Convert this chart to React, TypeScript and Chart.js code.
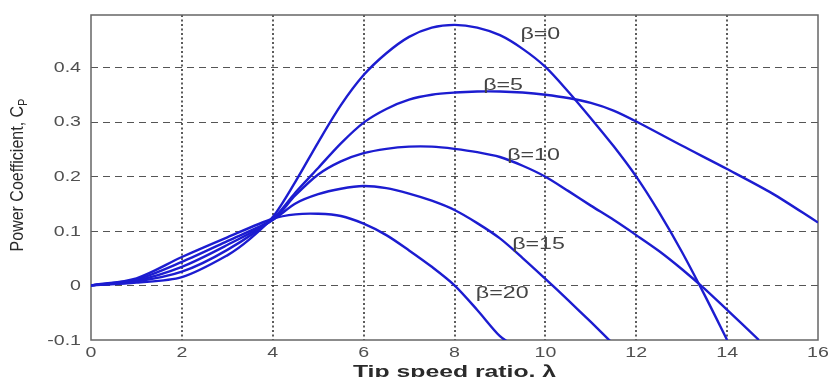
import { useEffect, useRef } from 'react';
import { Chart, registerables } from 'chart.js';

Chart.register(...registerables);

// ---- data ----
const lambda0 = [0, 1, 2, 3, 3.5, 4, 4.5, 5, 5.5, 6, 6.5, 7, 7.5, 8, 8.5, 9, 9.5, 10, 10.5, 11, 11.5, 12, 12.5, 13, 13.5, 14];
const cp0 = [0, 0.005, 0.015, 0.055, 0.085, 0.125, 0.19, 0.262, 0.33, 0.385, 0.425, 0.455, 0.472, 0.477, 0.472, 0.458, 0.433, 0.4, 0.355, 0.306, 0.255, 0.199, 0.134, 0.062, -0.017, -0.1];

const lambda5 = [0, 1, 2, 3, 4, 4.5, 5, 5.5, 6, 6.5, 7, 7.5, 8, 8.5, 9, 9.5, 10, 10.5, 11, 11.5, 12, 13, 14, 15, 16];
const cp5 = [0, 0.007, 0.025, 0.065, 0.122, 0.17, 0.215, 0.26, 0.298, 0.323, 0.34, 0.349, 0.353, 0.355, 0.355, 0.353, 0.349, 0.343, 0.334, 0.32, 0.3, 0.256, 0.213, 0.168, 0.115];

const lambda10 = [0, 1, 2, 3, 4, 4.5, 5, 5.5, 6, 6.5, 7, 7.5, 8, 8.5, 9, 9.5, 10, 10.5, 11, 11.5, 12, 12.5, 13, 13.5, 14, 14.7];
const cp10 = [0, 0.009, 0.034, 0.074, 0.12, 0.165, 0.203, 0.227, 0.242, 0.25, 0.254, 0.254, 0.25, 0.244, 0.235, 0.219, 0.199, 0.173, 0.146, 0.12, 0.092, 0.063, 0.03, -0.006, -0.045, -0.1];

const lambda15 = [0, 1, 2, 3, 4, 4.5, 5, 5.5, 6, 6.5, 7, 7.5, 8, 8.5, 9, 9.5, 10, 10.5, 11, 11.5];
const cp15 = [0, 0.011, 0.043, 0.081, 0.12, 0.15, 0.167, 0.177, 0.182, 0.178, 0.168, 0.155, 0.138, 0.114, 0.086, 0.05, 0.012, -0.027, -0.067, -0.108];

const lambda20 = [0, 1, 2, 3, 4, 4.5, 5, 5.5, 6, 6.5, 7, 7.5, 8, 8.5, 9, 9.3];
const cp20 = [0, 0.013, 0.052, 0.088, 0.122, 0.13, 0.131, 0.127, 0.113, 0.092, 0.064, 0.034, 0.0, -0.045, -0.093, -0.11];

const xTicks = [0, 2, 4, 6, 8, 10, 12, 14, 16];
const yTicks = [-0.1, 0, 0.1, 0.2, 0.3, 0.4];

const betaLabels = ['β=0', 'β=5', 'β=10', 'β=15', 'β=20'];
const betaLabelX = [9.89, 9.07, 9.74, 9.85, 9.05];
const betaLabelY = [0.459, 0.365, 0.237, 0.075, -0.015];

const xTitle = 'Tip speed ratio, λ';
const yTitle = 'Power Coefficient, C';
const yTitleSub = 'P';

const series = [
  { x: lambda0, y: cp0 },
  { x: lambda5, y: cp5 },
  { x: lambda10, y: cp10 },
  { x: lambda15, y: cp15 },
  { x: lambda20, y: cp20 },
];

const LINE_COLOR = '#1c1cd0';
const FONT = '"Liberation Sans", Arial, Helvetica, sans-serif';
const STRETCH = 1.4;

function stretchText(ctx: CanvasRenderingContext2D, text: string, x: number, y: number, sx: number, align: CanvasTextAlign) {
  ctx.save();
  ctx.translate(x, y);
  ctx.scale(sx, 1);
  ctx.textAlign = align;
  ctx.fillText(text, 0, 0);
  ctx.restore();
}

const gridPlugin = {
  id: 'matlabGrid',
  beforeDatasetsDraw(chart: any) {
    const { ctx, chartArea: a, scales } = chart;
    const xs = scales.x, ys = scales.y;
    ctx.save();
    ctx.strokeStyle = '#555';
    ctx.lineWidth = 1.2;
    ctx.setLineDash([7, 5]);
    yTicks.forEach((v) => {
      const py = Math.round(ys.getPixelForValue(v)) + 0.5;
      if (Math.abs(py - a.bottom) < 2 || Math.abs(py - a.top) < 2) return;
      ctx.beginPath();
      ctx.moveTo(a.left, py);
      ctx.lineTo(a.right, py);
      ctx.stroke();
    });
    ctx.strokeStyle = '#333';
    ctx.lineWidth = 1.6;
    ctx.setLineDash([2, 2.5]);
    xTicks.forEach((v) => {
      const px = Math.round(xs.getPixelForValue(v));
      if (Math.abs(px - a.left) < 2 || Math.abs(px - a.right) < 2) return;
      ctx.beginPath();
      ctx.moveTo(px, a.top);
      ctx.lineTo(px, a.bottom);
      ctx.stroke();
    });
    ctx.setLineDash([]);
    ctx.strokeStyle = '#666';
    ctx.lineWidth = 1.5;
    ctx.strokeRect(a.left, a.top, a.right - a.left, a.bottom - a.top);
    ctx.restore();
  },
};

const textPlugin = {
  id: 'matlabText',
  afterDraw(chart: any) {
    const { ctx, chartArea: a, scales } = chart;
    const xs = scales.x, ys = scales.y;
    ctx.save();
    ctx.fillStyle = '#505050';
    ctx.font = `14px ${FONT}`;
    ctx.textBaseline = 'middle';
    xTicks.forEach((v) => {
      stretchText(ctx, String(v), xs.getPixelForValue(v), a.bottom + 13, STRETCH, 'center');
    });
    yTicks.forEach((v) => {
      const label = v === 0 ? '0' : v.toFixed(1);
      stretchText(ctx, label, a.left - 10, ys.getPixelForValue(v) + 1, STRETCH, 'right');
    });
    ctx.fillStyle = '#444';
    ctx.font = `16px ${FONT}`;
    betaLabels.forEach((t, i) => {
      stretchText(ctx, t, xs.getPixelForValue(betaLabelX[i]), ys.getPixelForValue(betaLabelY[i]), 1.45, 'center');
    });
    ctx.fillStyle = '#2a2a2a';
    ctx.font = `bold 16.5px ${FONT}`;
    ctx.textBaseline = 'alphabetic';
    stretchText(ctx, xTitle, (a.left + a.right) / 2, 377, 1.5, 'center');
    ctx.font = `16px ${FONT}`;
    const mainW = ctx.measureText(yTitle).width;
    ctx.font = `11px ${FONT}`;
    const subW = ctx.measureText(yTitleSub).width;
    const total = mainW + subW;
    ctx.save();
    ctx.translate(23, 175);
    ctx.rotate(-Math.PI / 2);
    ctx.scale(1, 1.2);
    ctx.textAlign = 'left';
    ctx.textBaseline = 'alphabetic';
    ctx.font = `16px ${FONT}`;
    ctx.fillText(yTitle, -total / 2, 0);
    ctx.font = `11px ${FONT}`;
    ctx.fillText(yTitleSub, -total / 2 + mainW, 3);
    ctx.restore();
    ctx.restore();
  },
};

export default function App() {
  const ref = useRef<HTMLCanvasElement>(null);
  useEffect(() => {
    const chart = new Chart(ref.current as HTMLCanvasElement, {
      type: 'scatter',
      data: {
        datasets: series.map((s, i) => ({
          label: betaLabels[i],
          data: s.x.map((xv, j) => ({ x: xv, y: s.y[j] })),
          showLine: true,
          borderColor: LINE_COLOR,
          backgroundColor: LINE_COLOR,
          borderWidth: 2.4,
          pointRadius: 0,
          tension: 0.3,
        })),
      },
      options: {
        animation: false,
        responsive: false,
        maintainAspectRatio: false,
        layout: { padding: { top: 15, right: 10, left: 0, bottom: 0 } },
        plugins: { legend: { display: false }, tooltip: { enabled: false } },
        scales: {
          x: {
            type: 'linear',
            min: 0,
            max: 16,
            afterBuildTicks: (s: any) => { s.ticks = xTicks.map((v) => ({ value: v })); },
            afterFit: (s: any) => { s.height = 37; },
            grid: { display: false },
            border: { display: false },
            ticks: { display: false },
          },
          y: {
            type: 'linear',
            min: -0.1,
            max: 0.495,
            afterBuildTicks: (s: any) => { s.ticks = yTicks.map((v) => ({ value: v })); },
            afterFit: (s: any) => { s.width = 91; },
            grid: { display: false },
            border: { display: false },
            ticks: { display: false },
          },
        },
      },
      plugins: [gridPlugin, textPlugin],
    });
    return () => chart.destroy();
  }, []);
  return (
    <div style={{ position: 'absolute', left: 0, top: 0, width: 828, height: 377, background: '#fff' }}>
      <canvas ref={ref} width={828} height={377} style={{ display: 'block' }} />
    </div>
  );
}
